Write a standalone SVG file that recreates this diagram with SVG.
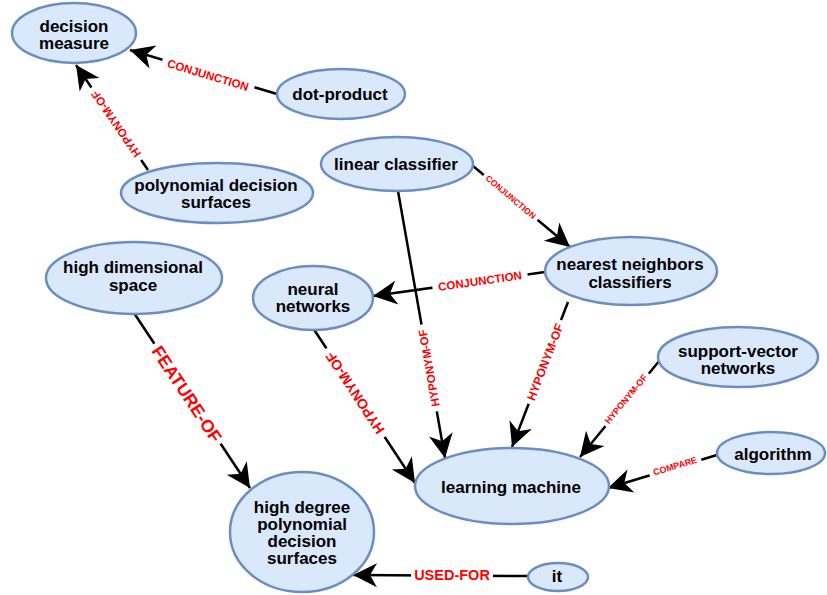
<svg xmlns="http://www.w3.org/2000/svg" width="827" height="595" viewBox="0 0 827 595">
<style>
.node ellipse{fill:#dae8fc;stroke:#6c8ebf;stroke-width:2.5}
.node text{font-family:"Liberation Sans",Arial,sans-serif;font-weight:bold;font-size:17px;fill:#000;text-anchor:middle}
.edge line{stroke:#000;stroke-width:2.5;marker-end:url(#arr)}
.lbl rect{fill:#fff}
.lbl text{font-family:"Liberation Sans",Arial,sans-serif;font-weight:bold;fill:#ff0000;text-anchor:middle}
</style>
<defs>
<marker id="arr" markerUnits="userSpaceOnUse" markerWidth="26" markerHeight="26" refX="24" refY="12" orient="auto" overflow="visible">
<path d="M24,12 L0,0 L7,12 L0,24 Z" fill="#000"/>
</marker>
</defs>
<rect width="827" height="595" fill="#fff"/>
<g id="connectors">
<g class="edge"><line x1="277" y1="94" x2="130" y2="50"/>
<g class="lbl" transform="translate(208,75) rotate(16.7)"><rect x="-48" y="-7.5" width="96" height="15"/><text y="4.1" font-size="11.5">CONJUNCTION</text></g></g>
<g class="edge"><line x1="148" y1="170" x2="76" y2="65"/>
<g class="lbl" transform="translate(116,124) rotate(-124.4)"><rect x="-44" y="-7.5" width="88" height="15"/><text y="4.1" font-size="11.5">HYPONYM-OF</text></g></g>
<g class="edge"><line x1="473" y1="166" x2="570" y2="247"/>
<g class="lbl" transform="translate(511,197) rotate(40)"><rect x="-35" y="-6" width="70" height="12"/><text y="3.1" font-size="8.5">CONJUNCTION</text></g></g>
<g class="edge"><line x1="545" y1="272" x2="373" y2="296"/>
<g class="lbl" transform="translate(480,281) rotate(-8)"><rect x="-48" y="-7.5" width="96" height="15"/><text y="4.1" font-size="11.5">CONJUNCTION</text></g></g>
<g class="edge"><line x1="398" y1="191" x2="445" y2="458"/>
<g class="lbl" transform="translate(429,368) rotate(-100)"><rect x="-44" y="-7.5" width="88" height="15"/><text y="4.1" font-size="11.5">HYPONYM-OF</text></g></g>
<g class="edge"><line x1="313" y1="328" x2="415" y2="483"/>
<g class="lbl" transform="translate(355,393) rotate(-123.4)"><rect x="-53" y="-9" width="106" height="18"/><text y="5" font-size="14">HYPONYM-OF</text></g></g>
<g class="edge"><line x1="568" y1="302" x2="512" y2="447"/>
<g class="lbl" transform="translate(545,362) rotate(-68.9)"><rect x="-45" y="-8" width="90" height="16"/><text y="4.3" font-size="12">HYPONYM-OF</text></g></g>
<g class="edge"><line x1="660" y1="360" x2="580" y2="457"/>
<g class="lbl" transform="translate(626,399) rotate(-50.5)"><rect x="-34" y="-6" width="68" height="12"/><text y="3.2" font-size="9">HYPONYM-OF</text></g></g>
<g class="edge"><line x1="717" y1="455" x2="608" y2="488"/>
<g class="lbl" transform="translate(675,466) rotate(-16.8)"><rect x="-27" y="-6" width="54" height="12"/><text y="3.2" font-size="9">COMPARE</text></g></g>
<g class="edge"><line x1="528" y1="576" x2="353" y2="575"/>
<g class="lbl" transform="translate(452,575)"><rect x="-41" y="-9" width="82" height="18"/><text y="5.2" font-size="14.5">USED-FOR</text></g></g>
<g class="edge"><line x1="134" y1="313" x2="250" y2="488"/>
<g class="lbl" transform="translate(187,394) rotate(56.5)"><rect x="-60" y="-11" width="120" height="22"/><text y="6.3" font-size="17.5">FEATURE-OF</text></g></g>
</g>
<g id="n1" class="node"><ellipse cx="74" cy="33" rx="62" ry="30"/><text x="74" y="32">decision</text><text x="74" y="49">measure</text></g>
<g id="n2" class="node"><ellipse cx="341" cy="94" rx="64" ry="25"/><text x="340" y="100">dot-product</text></g>
<g id="n3" class="node"><ellipse cx="217" cy="193" rx="96" ry="30"/><text x="216" y="191">polynomial decision</text><text x="216" y="208">surfaces</text></g>
<g id="n4" class="node"><ellipse cx="397" cy="164" rx="76" ry="27"/><text x="396" y="170">linear classifier</text></g>
<g id="n5" class="node"><ellipse cx="631" cy="271" rx="86" ry="34"/><text x="630" y="270">nearest neighbors</text><text x="630" y="288">classifiers</text></g>
<g id="n6" class="node"><ellipse cx="313" cy="298" rx="60" ry="32"/><text x="313" y="295">neural</text><text x="313" y="312">networks</text></g>
<g id="n7" class="node"><ellipse cx="134" cy="278" rx="88" ry="36"/><text x="133" y="273">high dimensional</text><text x="133" y="291">space</text></g>
<g id="n8" class="node"><ellipse cx="302" cy="532" rx="72" ry="60"/><text x="302" y="513">high degree</text><text x="302" y="530">polynomial</text><text x="302" y="547">decision</text><text x="302" y="564">surfaces</text></g>
<g id="n9" class="node"><ellipse cx="512" cy="486" rx="97" ry="38"/><text x="511" y="493">learning machine</text></g>
<g id="n10" class="node"><ellipse cx="738" cy="357" rx="80" ry="30"/><text x="738" y="357">support-vector</text><text x="738" y="374">networks</text></g>
<g id="n11" class="node"><ellipse cx="771" cy="453" rx="54" ry="21"/><text x="773" y="460">algorithm</text></g>
<g id="n12" class="node"><ellipse cx="558" cy="577" rx="30" ry="14"/><text x="557" y="582">it</text></g>
</svg>
